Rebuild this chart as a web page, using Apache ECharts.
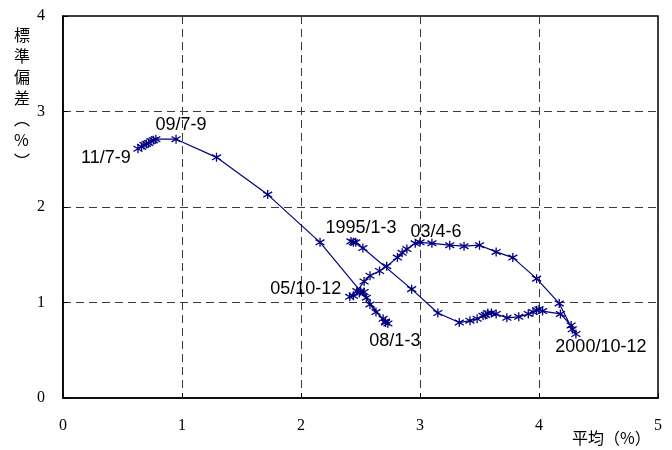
<!DOCTYPE html>
<html><head><meta charset="utf-8">
<script src="https://cdn.jsdelivr.net/npm/echarts@6/dist/echarts.min.js"></script>
<style>html,body{margin:0;padding:0;background:#fff}#c{width:672px;height:450px}</style>
</head><body><div id="c"></div>
<script>
// Quarterly points: mean (%) and standard deviation (%), 1995/1-3 ... 2011/7-9
const meanX = [2.42,2.44,2.46,2.52,2.93,3.15,3.33,3.42,3.48,3.53,3.55,3.57,3.60,3.64,3.73,3.83,3.91,3.95,3.98,4.00,4.03,4.18,4.27,4.31,
  4.28,4.17,3.98,3.78,3.64,3.50,3.37,3.25,3.10,3.00,2.96,2.89,2.85,2.81,2.72,2.66,2.58,2.53,2.47,2.41,
  2.44,2.49,2.53,2.55,2.58,2.63,2.69,2.71,2.73,2.71,2.50,2.16,1.72,1.29,0.95,0.78,0.76,0.74,0.72,0.70,0.68,0.66,0.63];
const stdY = [1.64,1.63,1.63,1.57,1.14,0.89,0.79,0.81,0.83,0.86,0.87,0.89,0.89,0.88,0.84,0.85,0.88,0.90,0.92,0.93,0.91,0.88,0.76,0.67,
  0.72,0.99,1.25,1.47,1.53,1.60,1.59,1.60,1.62,1.63,1.62,1.56,1.52,1.47,1.38,1.33,1.28,1.22,1.12,1.06,
  1.07,1.10,1.11,1.05,0.98,0.90,0.83,0.80,0.78,0.79,1.12,1.63,2.13,2.52,2.71,2.71,2.70,2.69,2.67,2.66,2.65,2.63,2.61];
const pointLabelIdx = [0,23,33,43,52,58,66];
const pointLabelText = ['1995/1-3','2000/10-12','03/4-6','05/10-12','08/1-3','09/7-9','11/7-9'];
const xTicks = [0,1,2,3,4,5];
const yTicks = [0,1,2,3,4];
const xName = '平均（%）';
const yName = ['標','準','偏','差','︵','%','︶'];

// label offsets (style only)
const labelOffsets = {'1995/1-3':[10,-13],'2000/10-12':[25,13],'03/4-6':[16,-10],'05/10-12':[-44,-8],'08/1-3':[7,18],'09/7-9':[5,-14],'11/7-9':[-32,9]};

const data = meanX.map((x,i)=>{
  const k = pointLabelIdx.indexOf(i);
  const item = {value:[x, stdY[i]]};
  if (k>=0) {
    const t = pointLabelText[k];
    item.label = {show:true, formatter:t, position:'inside', offset:labelOffsets[t],
      color:'#000', fontFamily:'Liberation Sans', fontSize:18, align:'center', verticalAlign:'middle'};
  }
  return item;
});

const chart = echarts.init(document.getElementById('c'), null, {renderer:'canvas'});
const splitStyle = {show:true, lineStyle:{color:'#3a3a3a', type:[8,5], width:1}};
chart.setOption({
  animation:false,
  backgroundColor:'#fff',
  grid:{left:63, right:14, top:16, bottom:52, show:true, borderColor:'#000', borderWidth:1.5, backgroundColor:'transparent'},
  xAxis:{type:'value', min:xTicks[0], max:xTicks[xTicks.length-1], interval:1,
    axisLine:{show:true, lineStyle:{color:'#000', width:1.5}},
    axisTick:{show:true, inside:true, length:5, lineStyle:{color:'#000'}},
    axisLabel:{color:'#000', fontFamily:'Liberation Serif', fontSize:16, margin:20},
    splitLine:splitStyle},
  yAxis:{type:'value', min:yTicks[0], max:yTicks[yTicks.length-1], interval:1,
    axisLine:{show:true, lineStyle:{color:'#000', width:1.5}},
    axisTick:{show:true, inside:true, length:5, lineStyle:{color:'#000'}},
    axisLabel:{color:'#000', fontFamily:'Liberation Serif', fontSize:16, margin:18},
    splitLine:splitStyle},
  graphic:[
    {type:'text', left:14, top:24, style:{text:yName.join('\n'), font:'16px "Noto Sans CJK JP"', lineHeight:21, fill:'#000', align:'center'}},
    {type:'text', left:572, top:430, style:{text:xName, font:'16px "Noto Sans CJK JP"', fill:'#000'}}
  ],
  series:[{
    type:'line', data:data, showAllSymbol:true,
    symbol:'path://M5,0L5,10M0,2L10,8M0,8L10,2', symbolSize:9,
    itemStyle:{color:'#000080', borderColor:'#000080', borderWidth:1.3},
    lineStyle:{color:'#000080', width:1.2},
    label:{show:false}
  }]
});
</script></body></html>
